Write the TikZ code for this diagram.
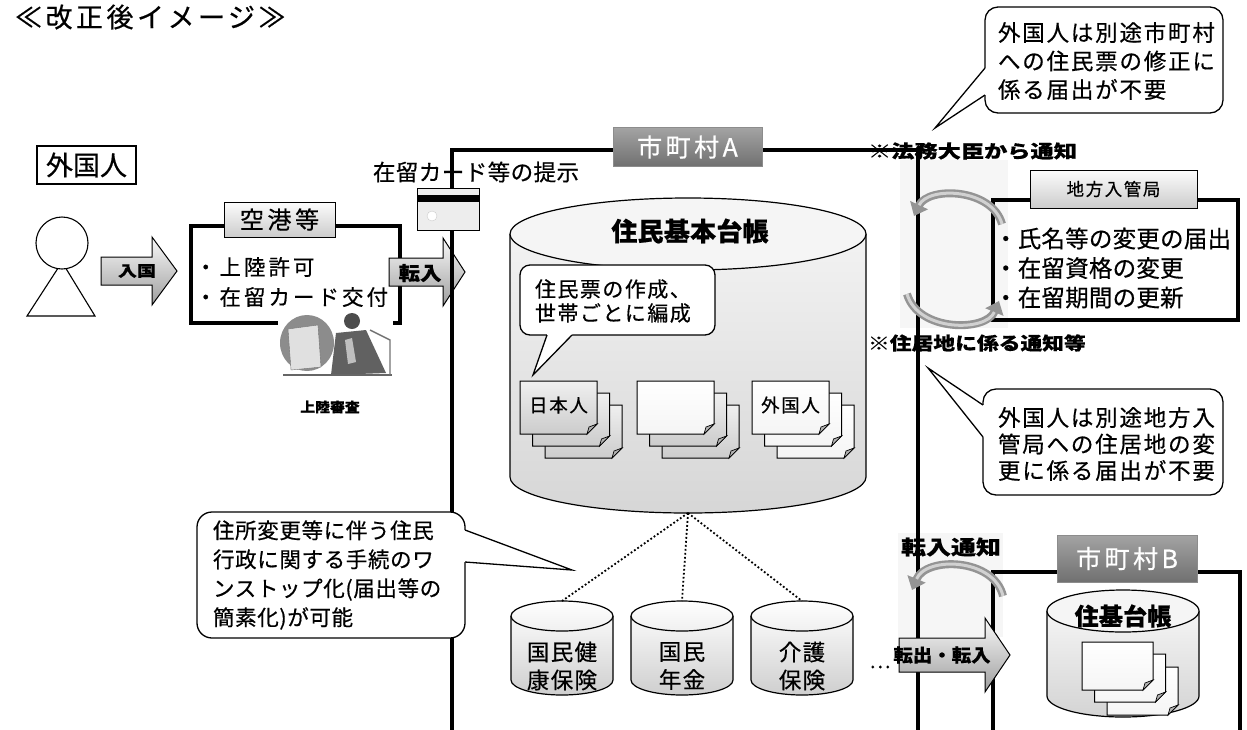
\documentclass[tikz,border=0pt]{standalone}
\usepackage{fontspec}
\setmainfont{Noto Sans CJK JP}[FakeBold=0.5]
\usetikzlibrary{arrows.meta}

% font helpers: size / baselineskip, letter spacing, horizontal stretch
\newcommand\fsz[2]{\fontsize{#1pt}{#2pt}\selectfont}
\newcommand\lsp[1]{\addfontfeature{LetterSpace=#1}}
\newcommand\wide[1]{\addfontfeature{FakeStretch=#1}}

% database drum: centre x, top y, bottom y, x radius, y radius, body style, lid style
\newcommand\dbcyl[7]{%
  \path[#6] ({#1-#4},#2) -- ({#1-#4},#3) arc[start angle=180,end angle=360,x radius=#4pt,y radius=#5pt] -- ({#1+#4},#2) -- cycle;
  \draw[line width=1.2pt] ({#1-#4},#2) -- ({#1-#4},#3) arc[start angle=180,end angle=360,x radius=#4pt,y radius=#5pt] -- ({#1+#4},#2);
  \draw[line width=1.2pt,#7] (#1,#2) ellipse[x radius=#4pt,y radius=#5pt];}

% sheet with a turned-up corner: x, y, width, height, style
\newcommand\docpage[5]{%
  \draw[line width=1pt,#5] (#1,#2) -- ({#1+#3},#2) -- ({#1+#3},{#2+#4-10}) -- ({#1+#3-10},{#2+#4}) -- (#1,{#2+#4}) -- cycle;
  \draw[line width=0.7pt,fill=gray!60] ({#1+#3},{#2+#4-10}) -- ({#1+#3-8},{#2+#4-7}) -- ({#1+#3-10},{#2+#4}) -- cycle;}

% block arrow: tail x, head base x, tip x, centre y, half shaft, half head, style
\newcommand\blkarrow[7]{%
  \path[#7] (#1,{#4-#5}) -- (#2,{#4-#5}) -- (#2,{#4-#6}) -- (#3,#4) -- (#2,{#4+#6}) -- (#2,{#4+#5}) -- (#1,{#4+#5}) -- cycle;}

% curved notice arrow drawn as a shaded ribbon
\newcommand\turnarrow[1]{%
  \draw[line width=8pt,draw=black!42,-{Triangle[length=12pt,width=19pt]}] #1;
  \draw[line width=3pt,draw=black!18,shorten >=12pt] #1;}

\begin{document}
\begin{tikzpicture}[x=1pt,y=-1pt,
  txt/.style={inner sep=0pt,outer sep=0pt},
  frameline/.style={line width=3.2pt},
  lightlabel/.style={draw,line width=1pt,top color=gray!2,bottom color=gray!40,inner sep=0pt},
  darklabel/.style={draw=black!45,line width=0.5pt,top color=black!36,bottom color=black!56,text=white,inner sep=0pt},
  balloon/.style={draw,line width=1.3pt,fill=white,rounded corners=13pt,inner sep=0pt},
  tailline/.style={line width=1.3pt,line join=miter},
  blockarrow/.style={draw,line width=1pt,top color=gray!5,bottom color=black!38},
  link/.style={line width=1.8pt,dash pattern=on 1.8pt off 2.2pt},
  pggray/.style={top color=gray!12,bottom color=gray!40},
  pgwhite/.style={top color=white,bottom color=gray!8}]

\useasboundingbox (0,0) rectangle (1247,729);
\fill[white] (0,0) rectangle (1247,729);

% ---------------- title ----------------
\node[txt,anchor=west,font=\fsz{27}{30}\lsp{13}] (title) at (15,17) {≪改正後イメージ≫};

% ---------------- foreigner ----------------
\node[draw,line width=2pt,minimum width=99pt,minimum height=38pt,inner sep=0pt,font=\fsz{27}{30}] (gaikoku) at (86.5,165) {外国人};
\draw[line width=1.1pt,fill=white] (27,316) -- (62,262) -- (95,316) -- cycle;
\node[circle,draw,line width=1.1pt,fill=white,minimum size=52pt,inner sep=0pt] (head) at (62,243) {};

\blkarrow{101}{152}{177}{271}{14}{34}{blockarrow}
\node[txt,font=\bfseries\fsz{15}{18}\wide{1.27}] (nyukoku) at (137,271) {入国};

% ---------------- airport ----------------
\node[draw,line width=3.2pt,minimum width=209pt,minimum height=97pt,inner sep=0pt] (airport) at (295.5,274.5) {};
\node[lightlabel,minimum width=111pt,minimum height=35pt,font=\fsz{24}{28}\lsp{15}] (kukou) at (279.5,219.5) {空港等};
\node[txt,anchor=west,align=left,font=\fsz{21.5}{30}\lsp{14}] (jouriku) at (195,282) {・上陸許可\\・在留カード交付};

% clerk at a desk
\fill[white] (278,312) rectangle (393,386);
\fill[black!45] (307,343) ellipse[x radius=27pt,y radius=28pt];
\draw[black!55,fill=black!12] (288,329) -- (318,325) -- (321,367) -- (291,370) -- cycle;
\fill[black!70] (352,321) circle[radius=8pt];
\fill[black!62] (336,333) -- (366,330) -- (386,373) -- (331,375) -- cycle;
\fill[black!25] (345,340) -- (352,338) -- (356,362) -- (348,364) -- cycle;
\draw[black!60,line width=1.8pt] (283,375) -- (392,375);
\draw[black!55,line width=1.4pt] (370,330) -- (390,340) -- (390,375);
\node[txt,font=\bfseries\fsz{13.5}{16}\wide{1.1}] (shinsa) at (330,407) {上陸審査};

\blkarrow{389}{443}{465}{272}{14}{34}{blockarrow}
\node[txt,font=\bfseries\fsz{19}{22}\wide{1.13}] (tennyu) at (420,273) {転入};

% ---------------- municipality A frame ----------------
\fill[gray!7] (900,160) rectangle (1008,328);
\fill[gray!7] (898,533) rectangle (1003,637);
\draw[frameline] (452,731) -- (452,150) -- (918,150) -- (918,731);
\node[darklabel,minimum width=149pt,minimum height=39pt,font=\fsz{25}{28}\lsp{14}] (cityA) at (687.5,147) {市町村A};

% residence card
\node[draw,line width=0.9pt,fill=gray!14,minimum width=62pt,minimum height=42pt,inner sep=0pt] (card) at (448,209) {};
\fill (417,195) rectangle (479,202);
\draw[gray!40,fill=white] (432,216) circle[radius=5pt];
\node[txt,font=\fsz{22.5}{26}\lsp{2}] (teiji) at (476,172) {在留カード等の提示};

% resident register
\dbcyl{688}{234}{477}{178}{36}{top color=gray!10,bottom color=gray!32}{fill=gray!8}
\coordinate (regbot) at (688,513);
\node[txt,font=\bfseries\fsz{26}{30}\lsp{1}] (register) at (690,231) {住民基本台帳};

\node[balloon,minimum width=195pt,minimum height=70pt,rounded corners=10pt] (note4) at (617.5,300) {};
\fill[white] (533,375) -- (547,335) -- (547,332) -- (572,332) -- (572,335) -- cycle;
\draw[tailline] (547,335) -- (533,375) -- (572,335);
\node[txt,anchor=west,align=left,font=\fsz{21}{24}\lsp{7}] (note4text) at (535,301) {住民票の作成、\\世帯ごとに編成};

% sheets grouped by household
\docpage{545}{405}{77}{53}{pggray}
\docpage{532.5}{393}{77}{53}{pggray}
\docpage{520}{381}{77}{53}{pggray}
\node[txt,font=\fsz{18.5}{22}\lsp{9}] (nihonjin) at (558.5,405) {日本人};
\docpage{662}{405}{77}{53}{pggray}
\docpage{649.5}{393}{77}{53}{pggray}
\docpage{637}{381}{77}{53}{pgwhite}
\docpage{777}{405}{77}{53}{pgwhite}
\docpage{764.5}{393}{77}{53}{pgwhite}
\docpage{752}{381}{77}{53}{pgwhite}
\node[txt,font=\fsz{18.5}{22}\lsp{9}] (gaikokujin) at (790.5,405) {外国人};

% linked administrative registers
\dbcyl{562}{616}{680}{51}{15}{top color=gray!5,bottom color=gray!38}{top color=white,bottom color=gray!12}
\dbcyl{682}{616}{680}{51}{15}{top color=gray!5,bottom color=gray!38}{top color=white,bottom color=gray!12}
\dbcyl{802}{616}{680}{51}{15}{top color=gray!5,bottom color=gray!38}{top color=white,bottom color=gray!12}
\coordinate (kokuho) at (562,601);
\coordinate (nenkin) at (682,601);
\coordinate (kaigo) at (802,601);
\draw[link] (regbot) -- (kokuho);
\draw[link] (regbot) -- (nenkin);
\draw[link] (regbot) -- (kaigo);
\node[txt,align=center,font=\fsz{22.5}{28}\lsp{6}] (kokuhotext) at (562,666) {国民健\\康保険};
\node[txt,align=center,font=\fsz{22.5}{28}\lsp{6}] (nenkintext) at (682,666) {国民\\年金};
\node[txt,align=center,font=\fsz{22.5}{28}\lsp{6}] (kaigotext) at (802,666) {介護\\保険};
\node[txt,font=\fsz{20}{24}] (etc) at (880,667) {…};

% one-stop note
\node[balloon,minimum width=268pt,minimum height=126pt,rounded corners=15pt] (note3) at (331,575) {};
\fill[white] (572,570) -- (465,530) -- (462,530) -- (462,562) -- (465,562) -- cycle;
\draw[tailline] (465,530) -- (572,570) -- (465,562);
\node[txt,anchor=west,align=left,font=\fsz{21.5}{29}\lsp{3}] (note3text) at (213,575) {住所変更等に伴う住民\\行政に関する手続のワ\\ンストップ化(届出等の\\簡素化)が可能};

% ---------------- immigration bureau ----------------
\node[draw,line width=3.2pt,minimum width=245pt,minimum height=120pt,inner sep=0pt] (bureau) at (1115.5,260) {};
\node[lightlabel,minimum width=167pt,minimum height=38pt,font=\fsz{17.5}{20}\lsp{9}] (bureaulabel) at (1113.5,189) {地方入管局};
\node[txt,anchor=west,align=left,font=\fsz{23.5}{29.5}\lsp{1}] (bureautext) at (994,268) {・氏名等の変更の届出\\・在留資格の変更\\・在留期間の更新};

\turnarrow{(1002,224) .. controls (992,188) and (928,186) .. (914,216)}
\turnarrow{(907,294) .. controls (918,332) and (986,332) .. (999,301)}
\node[txt,anchor=west,font=\bfseries\fsz{18}{22}\wide{1.29}] (minister) at (868,151) {※法務大臣から通知};
\node[txt,anchor=west,font=\bfseries\fsz{18}{22}\wide{1.21}] (address) at (868,343) {※住居地に係る通知等};

% notes on the right
\node[balloon,minimum width=238pt,minimum height=106pt] (note1) at (1104,60) {};
\fill[white] (935,128) -- (985,68) -- (988,68) -- (988,95) -- (985,95) -- cycle;
\draw[tailline] (985,68) -- (935,128) -- (985,95);
\node[txt,anchor=west,align=left,font=\fsz{22.5}{28.5}\lsp{8}] (note1text) at (998,61) {外国人は別途市町村\\への住民票の修正に\\係る届出が不要};

\node[balloon,minimum width=240pt,minimum height=106pt] (note2) at (1103,442) {};
\fill[white] (928,368) -- (983,405) -- (986,405) -- (986,437) -- (983,437) -- cycle;
\draw[tailline] (983,405) -- (928,368) -- (983,437);
\node[txt,anchor=west,align=left,font=\fsz{22.5}{26.5}\lsp{8}] (note2text) at (998,444) {外国人は別途地方入\\管局への住居地の変\\更に係る届出が不要};

% ---------------- municipality B ----------------
\draw[frameline] (993,731) -- (993,572) -- (1240,572) -- (1240,731);
\node[darklabel,minimum width=140pt,minimum height=47pt,font=\fsz{25}{28}\lsp{14}] (cityB) at (1127,558.5) {市町村B};
\dbcyl{1123}{611}{696}{76}{21}{top color=gray!8,bottom color=gray!34}{fill=gray!8}
\node[txt,font=\bfseries\fsz{24}{28}\lsp{1}] (registerB) at (1123,616) {住基台帳};
\docpage{1107}{667}{71}{48}{pgwhite}
\docpage{1094.5}{654}{71}{48}{pgwhite}
\docpage{1082}{642}{71}{48}{pgwhite}

\node[txt,font=\bfseries\fsz{20}{24}\wide{1.25}] (notice) at (951,547) {転入通知};
\turnarrow{(1003,596) .. controls (994,558) and (926,556) .. (912,590)}
\blkarrow{899}{985}{1010}{655}{17}{37}{blockarrow}
\node[txt,font=\bfseries\fsz{18}{22}\wide{1.08}] (move) at (942,655) {転出・転入};

\end{tikzpicture}
\end{document}
